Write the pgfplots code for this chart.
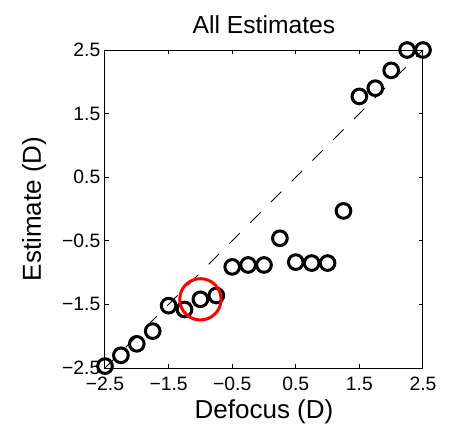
\documentclass[border=0pt]{standalone}
\usepackage{fontspec}
\setmainfont{Liberation Sans}
\usepackage{pgfplots}
\pgfplotsset{compat=1.18}
\begin{document}
\begin{tikzpicture}
\useasboundingbox (-78.75pt,-51pt) rectangle (261.75pt,276pt);
\begin{axis}[
  scale only axis,
  width=238.5pt, height=238.5pt,
  xmin=-2.5, xmax=2.5, ymin=-2.5, ymax=2.5,
  xtick={-2.5,-1.5,-0.5,0.5,1.5,2.5},
  ytick={-2.5,-1.5,-0.5,0.5,1.5,2.5},
  xticklabels={−2.5,−1.5,−0.5,0.5,1.5,2.5},
  yticklabels={−2.5,−1.5,−0.5,0.5,1.5,2.5},
  tick align=inside,
  major tick length=3pt,
  tick style={black, line width=0.75pt},
  axis line style={line width=0.75pt},
  ticklabel style={font=\fontsize{14.5}{16}\selectfont},
  xticklabel style={yshift=-3pt},
  label style={font=\fontsize{19.5}{22}\selectfont},
  ylabel style={yshift=5pt},
  title style={font=\fontsize{18.5}{21}\selectfont, yshift=3pt},
  title={All Estimates},
  xlabel={Defocus (D)},
  ylabel={Estimate (D)},
  clip=false,
]
\addplot[black, line width=0.6pt, dash pattern=on 11pt off 11pt] coordinates {(-2.5,-2.5) (2.5,2.5)};
\addplot[only marks, mark=o, mark size=5.5pt, mark options={line width=2.25pt, black}] coordinates {
(-2.5,-2.47) (-2.25,-2.30) (-2.0,-2.12) (-1.75,-1.92) (-1.5,-1.52) (-1.25,-1.58)
(-1.0,-1.42) (-0.75,-1.36) (-0.5,-0.91) (-0.25,-0.88) (0.0,-0.88) (0.25,-0.46)
(0.5,-0.835) (0.75,-0.85) (1.0,-0.85) (1.25,-0.03) (1.5,1.77) (1.75,1.90)
(2.0,2.18) (2.25,2.5) (2.5,2.5)
};
\addplot[only marks, mark=o, mark size=15.5pt, mark options={line width=2.25pt, red}] coordinates {(-1.0,-1.42)};
\end{axis}
\end{tikzpicture}
\end{document}
